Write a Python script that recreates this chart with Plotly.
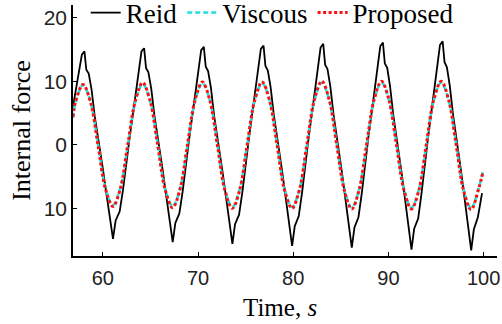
import plotly.graph_objects as go

# ---- data ----
t_reid = [56.87, 57.27, 57.55, 57.80,
          58.07, 58.27, 58.52, 58.82, 59.15, 59.67, 60.02, 60.37, 60.65, 60.89, 61.07, 61.35, 61.77, 62.12, 62.48, 62.83, 63.18, 63.54, 63.81, 64.06,
          64.34, 64.54, 64.79, 65.09, 65.42, 65.94, 66.29, 66.64, 66.92, 67.16, 67.34, 67.62, 68.04, 68.39, 68.75, 69.10, 69.45, 69.81, 70.08, 70.33,
          70.61, 70.81, 71.06, 71.36, 71.69, 72.21, 72.56, 72.91, 73.19, 73.43, 73.61, 73.89, 74.31, 74.66, 75.02, 75.37, 75.72, 76.08, 76.35, 76.60,
          76.88, 77.08, 77.33, 77.63, 77.96, 78.48, 78.83, 79.18, 79.46, 79.70, 79.88, 80.16, 80.58, 80.93, 81.29, 81.64, 81.99, 82.35, 82.62, 82.87,
          83.15, 83.35, 83.60, 83.90, 84.23, 84.75, 85.10, 85.45, 85.73, 85.97, 86.15, 86.43, 86.85, 87.20, 87.56, 87.91, 88.26, 88.62, 88.89, 89.14,
          89.42, 89.62, 89.87, 90.17, 90.50, 91.02, 91.37, 91.72, 92.00, 92.24, 92.42, 92.70, 93.12, 93.47, 93.83, 94.18, 94.53, 94.89, 95.16, 95.41,
          95.69, 95.89, 96.14, 96.44, 96.77, 97.29, 97.64, 97.99, 98.27, 98.51, 98.69, 98.97, 99.39, 99.83]
reid = [6.0, 9.5, 12.3, 14.2,
        14.7, 11.8, 11.2, 8.7, 4.5, -0.3, -3.9, -7.6, -10.8, -13.4, -14.8, -11.9, -10.5, -7.1, -2.4, 1.3, 5.0, 9.2, 12.4, 14.7,
        15.2, 12.1, 11.4, 8.8, 4.6, -0.3, -4.0, -7.8, -11.1, -13.8, -15.3, -12.3, -10.8, -7.3, -2.5, 1.3, 5.1, 9.4, 12.7, 14.9,
        15.4, 12.3, 11.6, 8.9, 4.6, -0.3, -4.1, -7.9, -11.3, -14.0, -15.6, -12.5, -11.0, -7.4, -2.5, 1.3, 5.2, 9.5, 12.8, 15.1,
        15.6, 12.4, 11.7, 9.0, 4.7, -0.3, -4.1, -8.0, -11.5, -14.3, -15.9, -12.8, -11.2, -7.5, -2.6, 1.4, 5.2, 9.6, 13.0, 15.3,
        15.9, 12.6, 11.9, 9.1, 4.8, -0.3, -4.2, -8.2, -11.7, -14.6, -16.2, -13.0, -11.4, -7.6, -2.6, 1.4, 5.3, 9.7, 13.2, 15.5,
        16.1, 12.8, 12.1, 9.2, 4.8, -0.3, -4.3, -8.3, -11.9, -14.8, -16.5, -13.2, -11.6, -7.7, -2.7, 1.4, 5.4, 9.8, 13.3, 15.7,
        16.3, 13.0, 12.2, 9.3, 4.9, -0.3, -4.3, -8.4, -12.0, -14.9, -16.6, -13.3, -11.4, -7.6]

t_damp = [56.87, 57.14,
          57.92, 58.70, 59.49, 60.27, 61.06, 61.84, 62.62, 63.41,
          64.19, 64.97, 65.76, 66.54, 67.33, 68.11, 68.89, 69.68,
          70.46, 71.24, 72.03, 72.81, 73.60, 74.38, 75.16, 75.95,
          76.73, 77.51, 78.30, 79.08, 79.87, 80.65, 81.43, 82.22,
          83.00, 83.78, 84.57, 85.35, 86.14, 86.92, 87.70, 88.49,
          89.27, 90.05, 90.84, 91.62, 92.41, 93.19, 93.97, 94.76,
          95.54, 96.32, 97.11, 97.89, 98.68, 99.46, 99.94]
proposed = [4.4, 6.8,
            9.5, 6.8, 0.0, -6.9, -9.7, -6.9, 0.0, 6.9,
            9.8, 6.9, 0.0, -7.0, -9.9, -7.0, 0.0, 7.0,
            9.9, 7.0, 0.0, -7.1, -10.0, -7.1, 0.0, 7.0,
            9.9, 7.0, 0.0, -7.1, -10.0, -7.1, 0.0, 7.1,
            10.0, 7.1, 0.0, -7.1, -10.1, -7.1, 0.0, 7.1,
            10.0, 7.1, 0.0, -7.1, -10.1, -7.2, 0.0, 7.1,
            10.0, 7.1, 0.0, -7.2, -10.2, -7.0, -4.2]
viscous = [4.2, 6.6,
           9.4, 6.8, 0.2, -6.7, -9.5, -6.8, -0.2, 6.7,
           9.6, 6.9, 0.2, -6.8, -9.7, -6.9, -0.2, 6.8,
           9.7, 7.0, 0.2, -6.9, -9.8, -7.0, -0.2, 6.9,
           9.7, 7.0, 0.2, -6.9, -9.8, -7.0, -0.2, 6.9,
           9.8, 7.0, 0.2, -6.9, -9.9, -7.0, -0.2, 7.0,
           9.8, 7.0, 0.2, -6.9, -9.9, -7.1, -0.2, 7.0,
           9.8, 7.0, 0.2, -7.0, -10.0, -6.9, -4.0]

x_ticks = [60, 70, 80, 90, 100]
y_ticks = [-10, 0, 10, 20]
y_tick_text = ["10", "0", "10", "20"]
x_title = "Time, <i>s</i>"
y_title = "Internal force"

fig = go.Figure()
fig.add_trace(go.Scatter(x=t_reid, y=reid, mode="lines", name="Reid",
                         line=dict(color="black", width=1.8)))
fig.add_trace(go.Scatter(x=t_damp, y=viscous, mode="lines", name="Viscous",
                         line=dict(color="#22e0e0", width=2.5, dash="5px,3px", shape="spline")))
fig.add_trace(go.Scatter(x=t_damp, y=proposed, mode="lines", name="Proposed",
                         line=dict(color="#ff1010", width=3, dash="3px,2.5px", shape="spline")))

serif = "Liberation Serif, Times New Roman, serif"
sans = "Liberation Sans, Arial, sans-serif"

fig.update_layout(
    width=502, height=324,
    margin=dict(l=73, r=5, t=5, b=68, autoexpand=False),
    paper_bgcolor="white", plot_bgcolor="white",
    showlegend=True,
    legend=dict(orientation="h", x=0.03, y=0.968, xanchor="left", yanchor="middle",
                font=dict(family=serif, size=27, color="black"),
                bgcolor="rgba(0,0,0,0)", itemwidth=30, tracegroupgap=0),
    xaxis=dict(range=[56.87, 101.4], tickvals=x_ticks, showgrid=False, zeroline=False,
               showline=True, linecolor="black", linewidth=1.5, automargin=False,
               ticks="inside", ticklen=4, tickcolor="black", ticklabelstandoff=3,
               tickfont=dict(family=sans, size=20, color="#222")),
    yaxis=dict(range=[-17.5, 22], tickvals=y_ticks, ticktext=y_tick_text, showgrid=False, zeroline=False,
               showline=True, linecolor="black", linewidth=1.5, automargin=False,
               ticks="inside", ticklen=4, tickcolor="black",
               tickfont=dict(family=sans, size=21, color="#222"),
               title=dict(text=y_title, font=dict(family=serif, size=26, color="black"), standoff=6)),
    annotations=[dict(text=x_title, xref="paper", yref="paper", x=0.488, y=-0.205,
                      xanchor="center", yanchor="middle", showarrow=False,
                      font=dict(family=serif, size=25, color="black"))],
)

fig.write_html("out.html")
